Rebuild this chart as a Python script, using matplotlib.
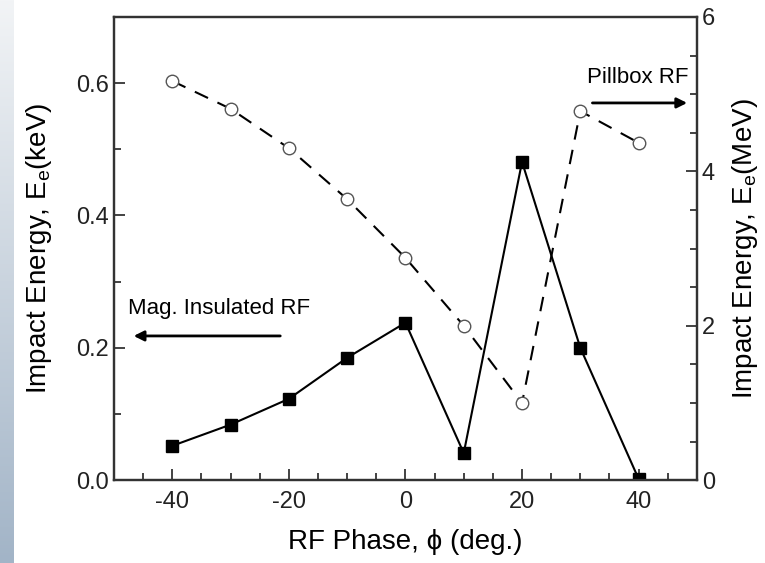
import numpy as np
import matplotlib
matplotlib.use("Agg")
import matplotlib.pyplot as plt
import matplotlib.ticker as ticker

plt.rcParams['font.family'] = ['Liberation Sans', 'DejaVu Sans']
plt.rcParams['mathtext.fontset'] = 'custom'
plt.rcParams['mathtext.rm'] = 'Liberation Sans'
plt.rcParams['axes.unicode_minus'] = False

fase = [-40, -30, -20, -10, 0, 10, 20, 30, 40]
mag_isolado_kev = [0.052, 0.084, 0.123, 0.185, 0.238, 0.041, 0.481, 0.200, 0.002]
pillbox_mev = [5.17, 4.81, 4.30, 3.64, 2.88, 2.00, 1.00, 4.78, 4.37]

fig = plt.figure(figsize=(7.65, 5.63), dpi=100)

# faixa degradê na borda esquerda
faixa = fig.add_axes([0, 0, 0.017, 1])
grad = np.linspace(0, 1, 256).reshape(-1, 1)
cmap = matplotlib.colors.LinearSegmentedColormap.from_list('g', ['#f2f4f6', '#a2b4c7'])
faixa.imshow(grad, aspect='auto', cmap=cmap, origin='upper')
faixa.axis('off')

ax = fig.add_axes([0.149, 0.147, 0.762, 0.823])
ax2 = ax.twinx()

ax.plot(fase, mag_isolado_kev, color='black', lw=1.5, marker='s', markersize=8,
        markerfacecolor='black', markeredgecolor='black', zorder=3)
ax2.plot(fase, pillbox_mev, color='black', lw=1.5, dashes=(7, 5), zorder=2)
ax2.plot(fase, pillbox_mev, ls='none', marker='o', markersize=9,
         markerfacecolor='white', markeredgecolor='#555555', markeredgewidth=1.0, zorder=3)

ax.set_xlim(-50, 50)
ax.set_ylim(0, 0.7)
ax2.set_ylim(0, 6)

ax.xaxis.set_major_locator(ticker.MultipleLocator(20))
ax.xaxis.set_minor_locator(ticker.MultipleLocator(5))
ax.yaxis.set_major_locator(ticker.FixedLocator([0, 0.2, 0.4, 0.6]))
ax.yaxis.set_minor_locator(ticker.MultipleLocator(0.1))
ax.yaxis.set_major_formatter(ticker.StrMethodFormatter('{x:.1f}'))
ax2.yaxis.set_major_locator(ticker.MultipleLocator(2))
ax2.yaxis.set_minor_locator(ticker.MultipleLocator(0.5))

for a in (ax, ax2):
    a.tick_params(which='both', direction='in', labelsize=17, colors='#222222')
    a.tick_params(which='major', length=8, width=1.2)
    a.tick_params(which='minor', length=5, width=1.2)
    for s in a.spines.values():
        s.set_linewidth(1.6)
        s.set_color('#333333')
ax.tick_params(axis='x', pad=8)

ax.set_xlabel('RF Phase, \u03d5 (deg.)', fontsize=20, labelpad=11)
ax.set_ylabel('Impact Energy, E$_\\mathregular{e}$(keV)', fontsize=20, labelpad=16)
ax2.set_ylabel('Impact Energy, E$_\\mathregular{e}$(MeV)', fontsize=20, labelpad=11)

ax.annotate('', xy=(48.8, 0.57), xytext=(31.6, 0.57),
            arrowprops=dict(arrowstyle='-|>', color='black', lw=2, mutation_scale=15))
ax.text(31.1, 0.609, 'Pillbox RF', fontsize=16, va='center', ha='left')
ax.annotate('', xy=(-47.1, 0.218), xytext=(-21.0, 0.218),
            arrowprops=dict(arrowstyle='-|>', color='black', lw=2, mutation_scale=15))
ax.text(-47.6, 0.260, 'Mag. Insulated RF', fontsize=16, va='center', ha='left')

fig.savefig('out.png', dpi=100)
